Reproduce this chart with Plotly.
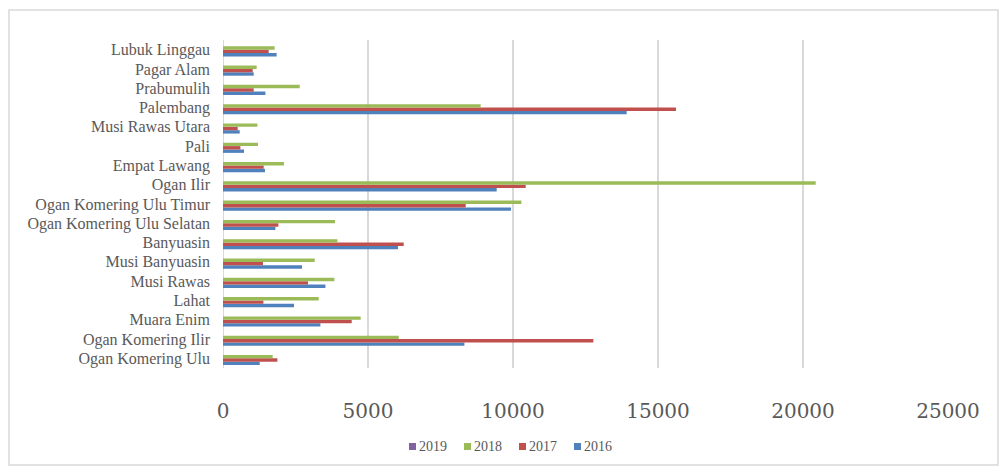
import plotly.graph_objects as go

# Regions listed bottom-to-top as they appear on the category axis
regions = [
    "Ogan Komering Ulu",
    "Ogan Komering Ilir",
    "Muara Enim",
    "Lahat",
    "Musi Rawas",
    "Musi Banyuasin",
    "Banyuasin",
    "Ogan Komering Ulu Selatan",
    "Ogan Komering Ulu Timur",
    "Ogan Ilir",
    "Empat Lawang",
    "Pali",
    "Musi Rawas Utara",
    "Palembang",
    "Prabumulih",
    "Pagar Alam",
    "Lubuk Linggau",
]

val_2016 = [1266, 8324, 3359, 2448, 3531, 2724, 6034, 1807, 9931, 9438,
            1448, 724, 576, 13920, 1462, 1059, 1850]
val_2017 = [1876, 12770, 4438, 1393, 2931, 1379, 6231, 1910, 8369, 10438,
            1403, 600, 507, 15620, 1059, 1024, 1575]
val_2018 = [1714, 6059, 4748, 3300, 3841, 3162, 3945, 3862, 10290, 20438,
            2103, 1207, 1186, 8886, 2645, 1162, 1780]
val_2019 = [0] * len(regions)

x_ticks = [0, 5000, 10000, 15000, 20000, 25000]

series = [
    ("2016", val_2016, "#4F81BD"),
    ("2017", val_2017, "#C0504D"),
    ("2018", val_2018, "#9BBB59"),
    ("2019", val_2019, "#8064A2"),
]

fig = go.Figure()
for name, vals, color in series:
    fig.add_trace(go.Bar(
        y=regions, x=vals, name=name, orientation="h",
        marker=dict(color=color, line=dict(width=0)),
        showlegend=False,
    ))

W, H = 1006, 472
L, R, T, B = 223, 58, 40, 104
pw, ph = W - L - R, H - T - B

def px_x(p):
    return (p - L) / pw

def px_y(p):
    return (H - B - p) / ph

shapes = [
    # outer chart border
    dict(type="rect", xref="paper", yref="paper",
         x0=px_x(9), x1=px_x(998), y0=px_y(465), y1=px_y(10),
         line=dict(color="#D9D9D9", width=1.5), layer="below"),
    # value axis baseline
    dict(type="line", xref="x", yref="paper", x0=0, x1=0, y0=0, y1=1,
         line=dict(color="#D9D9D9", width=2), layer="below"),
]
annotations = []

# compact legend row: small square + year label, newest year first
leg_y = 446
leg_x0 = 409
pitch = 55
for i, (name, _, color) in enumerate(reversed(series)):
    sx = leg_x0 + i * pitch
    shapes.append(dict(type="rect", xref="paper", yref="paper",
                       x0=px_x(sx), x1=px_x(sx + 7),
                       y0=px_y(leg_y + 4), y1=px_y(leg_y - 3),
                       fillcolor=color, line=dict(width=0)))
    annotations.append(dict(xref="paper", yref="paper",
                            x=px_x(sx + 8), y=px_y(leg_y),
                            xanchor="left", yanchor="middle",
                            text=name, showarrow=False,
                            font=dict(family="Liberation Serif", size=14,
                                      color="#595959")))

fig.update_layout(
    width=W, height=H,
    margin=dict(l=L, r=R, t=T, b=B),
    paper_bgcolor="white", plot_bgcolor="white",
    barmode="group", bargap=0.3, bargroupgap=0,
    showlegend=False,
    xaxis=dict(
        range=[0, 25000], tickvals=x_ticks,
        ticktext=[str(v) for v in x_ticks],
        showgrid=True, gridcolor="#D9D9D9", gridwidth=2,
        zeroline=False, showline=False,
        tickfont=dict(family="DejaVu Serif", size=20, color="#595959"),
        ticklabelstandoff=29,
    ),
    yaxis=dict(
        type="category", showgrid=False, zeroline=False,
        showline=False,
        tickfont=dict(family="Liberation Serif", size=16, color="#595959"),
        ticklabelstandoff=12,
    ),
    shapes=shapes,
    annotations=annotations,
)

fig.write_html("out.html")
